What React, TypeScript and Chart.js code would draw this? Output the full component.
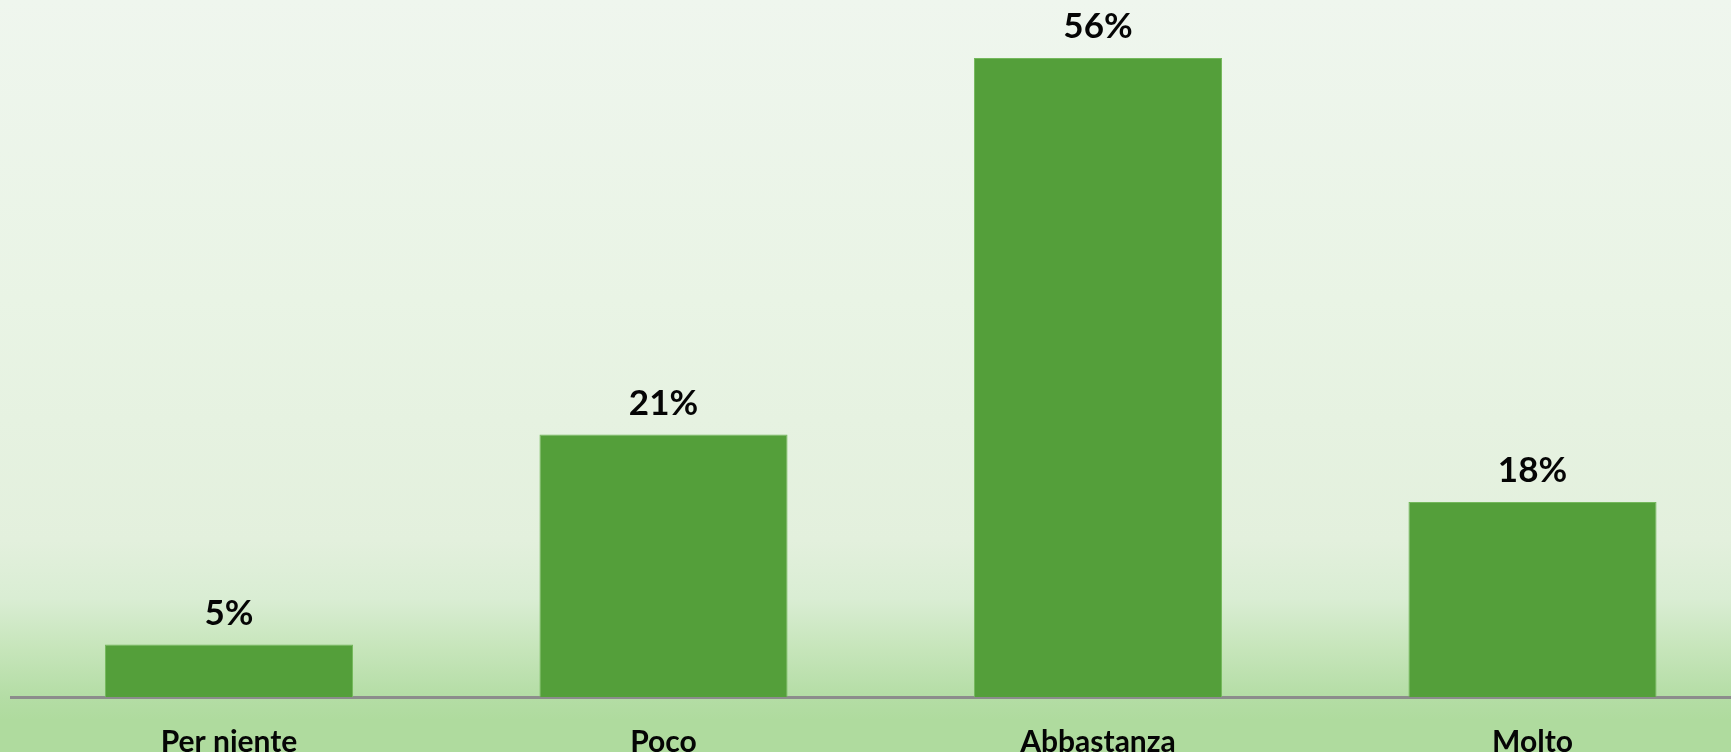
import React, { useEffect, useRef } from "react";
import { Chart, registerables } from "chart.js";

Chart.register(...registerables);

const categories = ["Per niente", "Poco", "Abbastanza", "Molto"];
const barValues = [4.6, 23.0, 56.0, 17.1];
const valueLabels = ["5%", "21%", "56%", "18%"];
const yMin = 0;
const yMax = 60;

const FONT = "Lato, 'Open Sans', sans-serif";

const valueLabelPlugin = {
  id: "valueLabels",
  afterDatasetsDraw(chart: any) {
    const ctx = chart.ctx;
    const meta = chart.getDatasetMeta(0);
    ctx.save();
    ctx.font = `bold 35px ${FONT}`;
    ctx.fillStyle = "#050505";
    ctx.textAlign = "center";
    ctx.textBaseline = "alphabetic";
    meta.data.forEach((bar: any, i: number) => {
      ctx.fillText(valueLabels[i], bar.x, bar.y - 20);
    });
    ctx.restore();
  },
};

export default function App() {
  const ref = useRef<HTMLCanvasElement | null>(null);

  useEffect(() => {
    if (!ref.current) return;
    const chart = new Chart(ref.current, {
      type: "bar",
      data: {
        labels: categories,
        datasets: [
          {
            data: barValues,
            backgroundColor: "#549F3A",
            borderColor: "#74B85C",
            borderWidth: 1,
            categoryPercentage: 0.571,
            barPercentage: 1,
          },
        ],
      },
      options: {
        animation: false,
        responsive: false,
        devicePixelRatio: 1,
        layout: { padding: { left: 11.75, right: 10.25, top: 12.4, bottom: 0 } },
        plugins: {
          legend: { display: false },
          tooltip: { enabled: false },
        },
        scales: {
          x: {
            grid: { display: false, drawTicks: false },
            border: { display: true, color: "#8C8C8C", width: 3 },
            ticks: {
              color: "#050505",
              padding: 27,
              font: { family: FONT, size: 30, weight: "bold" },
              maxRotation: 0,
              autoSkip: false,
            },
            afterFit: (scale: any) => {
              scale.height = 55;
            },
          },
          y: {
            display: false,
            min: yMin,
            max: yMax,
          },
        },
      },
      plugins: [valueLabelPlugin],
    });
    return () => chart.destroy();
  }, []);

  return (
    <div
      style={{
        position: "fixed",
        left: 0,
        top: 0,
        width: 1731,
        height: 752,
        overflow: "hidden",
        background:
          "linear-gradient(to bottom, #EFF6EE 0px, #E9F4E5 300px, #E3F0DD 540px, #D9EDD3 600px, #C6E5BA 650px, #B4DDA5 697px, #AFDB9E 720px, #AFDB9E 752px)",
      }}
    >
      <canvas
        ref={ref}
        width={1760}
        height={752}
        style={{ display: "block", width: 1760, height: 752 }}
      />
    </div>
  );
}
